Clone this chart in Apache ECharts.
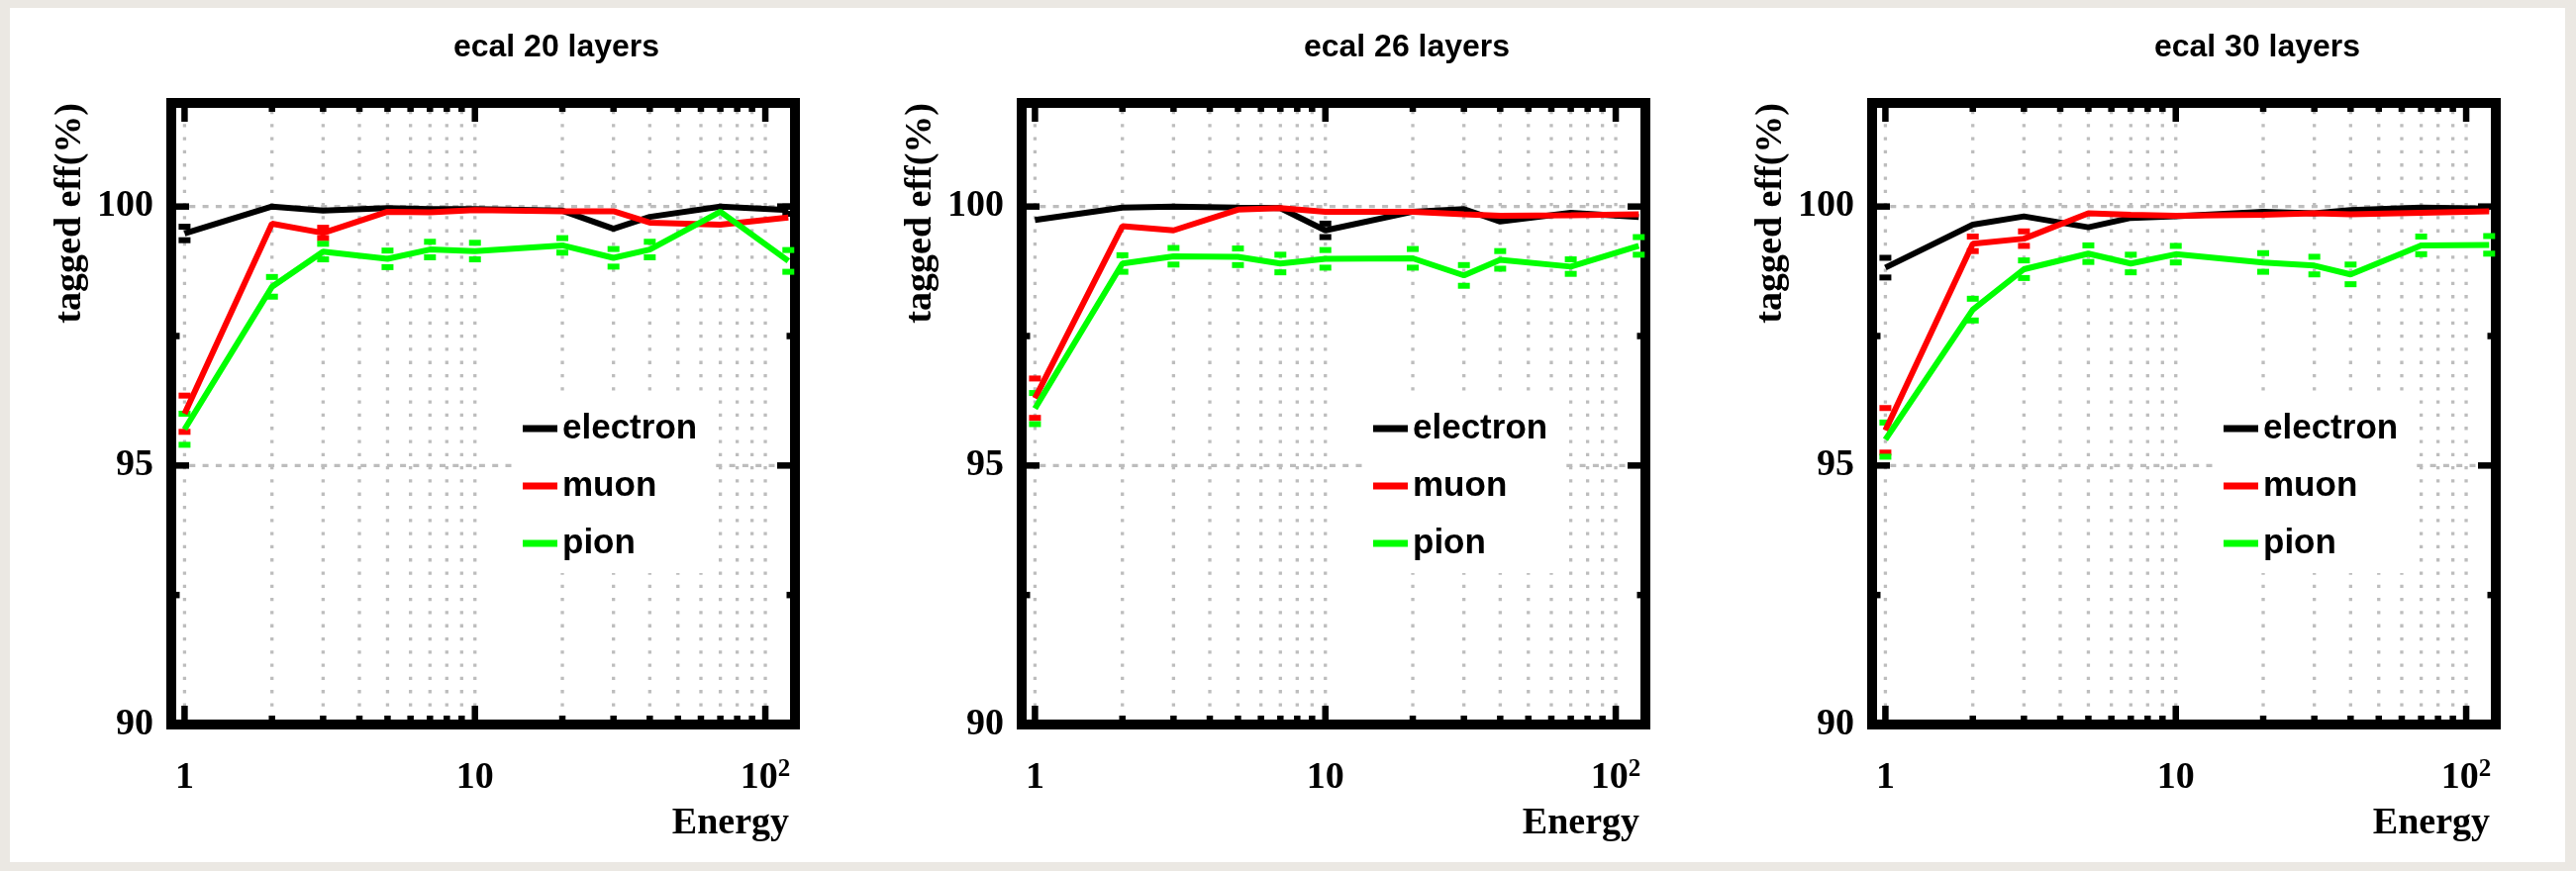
<!DOCTYPE html>
<html>
<head>
<meta charset="utf-8">
<title>ecal tagging efficiency</title>
<script src="https://cdn.jsdelivr.net/npm/echarts@6/dist/echarts.min.js"></script>
<style>
  html, body { margin: 0; padding: 0; background: #ebe8e3; }
  #sheet { position: absolute; left: 10px; top: 8px; width: 2581px; height: 863px; background: #ffffff; }
  #chart { position: absolute; left: 0; top: 0; width: 2602px; height: 880px; }
</style>
</head>
<body>
<div id="sheet"></div>
<div id="chart"></div>
<script>
// Beam energies of the measured points
const ENERGY = [1, 2, 3, 5, 7, 10, 20, 30, 40, 70, 120];

const PANEL_TITLES = ['ecal 20 layers', 'ecal 26 layers', 'ecal 30 layers'];
const SERIES_NAMES = ['electron', 'muon', 'pion'];

// Axis labelling
const X_TICK_LABELS = [1, 10, 100];
const X_GRID_VALUES = [1, 2, 3, 4, 5, 6, 7, 8, 9, 10, 20, 30, 40, 50, 60, 70, 80, 90, 100];
const Y_TICK_LABELS = [90, 95, 100];
const Y_TICK_VALUES = [90, 92.5, 95, 97.5, 100];
const Y_GRID_VALUES = [95, 100];

// Tagged efficiency (%) and its uncertainty, 20 layers
const ELECTRON_20     = [99.48, 100.0, 99.92, 99.97, 99.95, 99.95, 99.92, 99.57, 99.80, 100.0, 99.93];
const ELECTRON_20_ERR = [0.13, 0, 0, 0, 0, 0, 0, 0, 0, 0, 0.07];
const MUON_20         = [96.00, 99.67, 99.49, 99.90, 99.89, 99.93, 99.91, 99.91, 99.69, 99.65, 99.79];
const MUON_20_ERR     = [0.35, 0, 0.10, 0, 0, 0, 0, 0, 0, 0, 0];
const PION_20         = [95.70, 98.45, 99.13, 98.99, 99.17, 99.14, 99.25, 99.01, 99.17, 99.90, 98.95];
const PION_20_ERR     = [0.30, 0.19, 0.15, 0.16, 0.15, 0.16, 0.14, 0.17, 0.15, 0, 0.21];

// 26 layers
const ELECTRON_26     = [99.74, 99.98, 100.0, 99.98, 99.97, 99.54, 99.90, 99.95, 99.71, 99.88, 99.80];
const ELECTRON_26_ERR = [0, 0, 0, 0, 0, 0.13, 0, 0, 0, 0, 0];
const MUON_26         = [96.30, 99.62, 99.54, 99.94, 99.97, 99.90, 99.90, 99.85, 99.82, 99.83, 99.85];
const MUON_26_ERR     = [0.38, 0, 0, 0, 0, 0, 0, 0, 0, 0, 0];
const PION_26         = [96.10, 98.90, 99.04, 99.03, 98.90, 98.99, 99.00, 98.67, 98.97, 98.84, 99.24];
const PION_26_ERR     = [0.30, 0.16, 0.16, 0.16, 0.17, 0.17, 0.18, 0.20, 0.17, 0.14, 0.17];

// 30 layers
const ELECTRON_30     = [98.82, 99.65, 99.81, 99.60, 99.78, 99.81, 99.90, 99.87, 99.93, 99.98, 99.96];
const ELECTRON_30_ERR = [0.19, 0, 0, 0, 0, 0, 0, 0, 0, 0, 0];
const MUON_30         = [95.68, 99.28, 99.38, 99.87, 99.84, 99.82, 99.84, 99.87, 99.85, 99.88, 99.91];
const MUON_30_ERR     = [0.43, 0.14, 0.14, 0, 0, 0, 0, 0, 0, 0, 0];
const PION_30         = [95.50, 98.01, 98.79, 99.09, 98.90, 99.08, 98.92, 98.86, 98.69, 99.25, 99.26];
const PION_30_ERR     = [0.33, 0.21, 0.17, 0.16, 0.17, 0.16, 0.18, 0.17, 0.19, 0.17, 0.17];

const PANELS = [
  { title: PANEL_TITLES[0], values: [ELECTRON_20, MUON_20, PION_20], errors: [ELECTRON_20_ERR, MUON_20_ERR, PION_20_ERR] },
  { title: PANEL_TITLES[1], values: [ELECTRON_26, MUON_26, PION_26], errors: [ELECTRON_26_ERR, MUON_26_ERR, PION_26_ERR] },
  { title: PANEL_TITLES[2], values: [ELECTRON_30, MUON_30, PION_30], errors: [ELECTRON_30_ERR, MUON_30_ERR, PION_30_ERR] }
];

// Styling
const COLORS = ['#000000', '#ff0000', '#00ff00'];
const X_MIN = 0.9, X_MAX = 126.5, Y_MIN = 90, Y_MAX = 102;
const PANEL_STEP = 859;
const SERIF = '"Liberation Serif", "Times New Roman", Times, serif';
const SANS = '"Liberation Sans", Arial, Helvetica, sans-serif';
const FRAME = 10;
const V_DOTS = { stroke: '#bdbdbd', lineWidth: 3.3, lineDash: [3.3, 10] };
const H_DOTS = { stroke: '#bdbdbd', lineWidth: 3.3, lineDash: [6, 7.3] };

function isLabelled(list, v) {
  return list.some(function (t) { return Math.abs(t - v) < 1e-6 * Math.max(1, t); });
}

function formatEnergy(v) {
  if (isLabelled([1], v)) return '{b|1}';
  if (isLabelled([10], v)) return '{b|10}';
  if (isLabelled([100], v)) return '{b|10}{s|2}';
  return '';
}

const X_RICH = {
  b: { fontFamily: SERIF, fontWeight: 'bold', fontSize: 38, lineHeight: 40, color: '#000', padding: [12, 0, 0, 0], verticalAlign: 'bottom' },
  s: { fontFamily: SERIF, fontWeight: 'bold', fontSize: 25, lineHeight: 28, color: '#000', verticalAlign: 'top' }
};

// Vertical dotted grid and top/bottom ticks at every decade subdivision
function renderXDecor(params, api) {
  const e = api.value(0);
  const b = api.coord([e, Y_MIN]);
  const t = api.coord([e, Y_MAX]);
  const len = isLabelled(X_TICK_LABELS, e) ? FRAME / 2 + 14 : FRAME / 2 + 4;
  return {
    type: 'group',
    children: [
      { type: 'line', shape: { x1: b[0], y1: b[1] - FRAME / 2, x2: t[0], y2: t[1] + FRAME / 2 }, style: Object.assign({}, V_DOTS) },
      { type: 'line', shape: { x1: b[0], y1: b[1], x2: b[0], y2: b[1] - len }, style: { stroke: '#000', lineWidth: 6.5 } },
      { type: 'line', shape: { x1: t[0], y1: t[1], x2: t[0], y2: t[1] + len }, style: { stroke: '#000', lineWidth: 6.5 } }
    ]
  };
}

// Horizontal dotted grid and left/right ticks
function renderYDecor(params, api) {
  const v = api.value(1);
  const l = api.coord([X_MIN, v]);
  const r = api.coord([X_MAX, v]);
  const len = isLabelled(Y_TICK_LABELS, v) ? FRAME / 2 + 13 : FRAME / 2 + 3.5;
  const children = [];
  if (isLabelled(Y_GRID_VALUES, v)) {
    children.push({ type: 'line', shape: { x1: l[0] + FRAME / 2, y1: l[1], x2: r[0] - FRAME / 2, y2: r[1] }, style: Object.assign({}, H_DOTS) });
  }
  children.push({ type: 'line', shape: { x1: l[0], y1: l[1], x2: l[0] + len, y2: l[1] }, style: { stroke: '#000', lineWidth: 6.5 } });
  children.push({ type: 'line', shape: { x1: r[0], y1: r[1], x2: r[0] - len, y2: r[1] }, style: { stroke: '#000', lineWidth: 6.5 } });
  return { type: 'group', children: children };
}

// Error-bar end caps at value ± error
function errorCaps(color) {
  return function (params, api) {
    const err = api.value(2);
    if (!(err > 0)) return { type: 'group', children: [] };
    const e = api.value(0), v = api.value(1);
    const hi = api.coord([e, v + err]);
    const lo = api.coord([e, v - err]);
    const w = 12, h = 6;
    return {
      type: 'group',
      children: [
        { type: 'rect', shape: { x: hi[0] - w / 2, y: hi[1] - h / 2, width: w, height: h }, style: { fill: color } },
        { type: 'rect', shape: { x: lo[0] - w / 2, y: lo[1] - h / 2, width: w, height: h }, style: { fill: color } }
      ]
    };
  };
}

const grid = [], xAxis = [], yAxis = [], series = [], legend = [], graphic = [];

PANELS.forEach(function (p, i) {
  const off = i * PANEL_STEP;

  grid.push({
    left: 173 + off, top: 104, width: 630, height: 628,
    show: true, borderColor: '#000', borderWidth: FRAME, backgroundColor: 'rgba(0,0,0,0)'
  });

  xAxis.push({
    gridIndex: i, type: 'log', logBase: 10, min: X_MIN, max: X_MAX,
    axisLine: { show: false }, axisTick: { show: false },
    splitLine: { show: false }, minorTick: { show: false }, minorSplitLine: { show: false },
    axisLabel: { show: true, interval: 0, margin: 33, formatter: formatEnergy, rich: X_RICH }
  });

  yAxis.push({
    gridIndex: i, type: 'value', min: Y_MIN, max: Y_MAX, interval: 5,
    axisLine: { show: false }, axisTick: { show: false },
    splitLine: { show: false }, minorTick: { show: false },
    axisLabel: {
      margin: 18, color: '#000', fontFamily: SERIF, fontWeight: 'bold', fontSize: 38,
      formatter: function (v) { return isLabelled(Y_TICK_LABELS, v) ? String(v) : ''; }
    }
  });

  series.push({
    type: 'custom', name: 'x grid ' + i, xAxisIndex: i, yAxisIndex: i, z: 1, silent: true, clip: false,
    data: X_GRID_VALUES.map(function (e) { return [e, Y_MIN]; }), renderItem: renderXDecor
  });
  series.push({
    type: 'custom', name: 'y grid ' + i, xAxisIndex: i, yAxisIndex: i, z: 1, silent: true, clip: false,
    data: Y_TICK_VALUES.map(function (v) { return [1, v]; }), renderItem: renderYDecor
  });

  SERIES_NAMES.forEach(function (name, k) {
    series.push({
      type: 'line', name: name, xAxisIndex: i, yAxisIndex: i, z: 3,
      data: ENERGY.map(function (e, j) { return [e, p.values[k][j]]; }),
      symbol: 'none', showSymbol: false, color: COLORS[k],
      lineStyle: { color: COLORS[k], width: 6 }
    });
    series.push({
      type: 'custom', name: name + ' error ' + i, xAxisIndex: i, yAxisIndex: i, z: 3, clip: false, silent: true,
      data: ENERGY.map(function (e, j) { return [e, p.values[k][j], p.errors[k][j]]; }),
      renderItem: errorCaps(COLORS[k])
    });
  });

  legend.push({
    orient: 'vertical', left: 517 + off, top: 404,
    data: SERIES_NAMES, icon: 'rect', itemWidth: 35, itemHeight: 7, itemGap: 18,
    padding: [9, 15, 10, 11], backgroundColor: '#ffffff', selectedMode: false,
    textStyle: { fontFamily: SANS, fontWeight: 'bold', fontSize: 35, lineHeight: 40, color: '#000' }
  });

  graphic.push({
    type: 'text', x: 562 + off, y: 48, silent: true,
    style: { text: p.title, font: 'bold 32px ' + SANS, fill: '#000', align: 'center', verticalAlign: 'middle' }
  });
  graphic.push({
    type: 'text', x: 797 + off, y: 832, silent: true,
    style: { text: 'Energy', font: 'bold 38px ' + SERIF, fill: '#000', align: 'right', verticalAlign: 'middle' }
  });
  graphic.push({
    type: 'text', x: 71 + off, y: 104, rotation: Math.PI / 2, silent: true,
    style: { text: 'tagged eff(%)', font: 'bold 38px ' + SERIF, fill: '#000', align: 'right', verticalAlign: 'middle' }
  });
});

const chart = echarts.init(document.getElementById('chart'), null, { renderer: 'canvas' });
chart.setOption({
  animation: false,
  backgroundColor: 'transparent',
  grid: grid,
  xAxis: xAxis,
  yAxis: yAxis,
  legend: legend,
  graphic: graphic,
  series: series
});
</script>
</body>
</html>
